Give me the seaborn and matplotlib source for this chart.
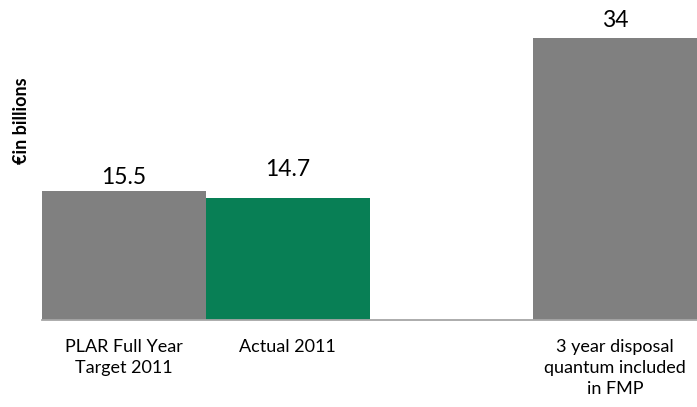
import matplotlib
matplotlib.use("Agg")
import matplotlib.pyplot as plt
import seaborn as sns
import pandas as pd
import numpy as np

categories = ["PLAR Full Year\nTarget 2011", "Actual 2011", " ", "3 year disposal\nquantum included\nin FMP"]
values = [15.5, 14.7, np.nan, 34]
value_labels = ["15.5", "14.7", "", "34"]
bar_colors = ["#808080", "#087F55", "#808080", "#808080"]
label_offsets = [3, 18, 0, 7]  # pixels above bar top

sns.set_theme(style="white")
plt.rcParams["font.family"] = ["Lato", "DejaVu Sans"]

df = pd.DataFrame({"cat": categories, "val": values})

fig = plt.figure(figsize=(6.97, 4.07), dpi=100)
ax = fig.add_axes([42/697, 87/407, 655/697, 300/407])

sns.barplot(data=df, x="cat", y="val", hue="cat", palette=bar_colors,
            width=1.0, legend=False, ax=ax, saturation=1, order=categories,
            hue_order=categories, linewidth=0, edgecolor="none")

ax.set_ylim(0, 34 * 300 / 282)
ax.set_xlim(-0.5, 3.5)
ax.set_yticks([])
ax.set_xlabel("")
ax.set_ylabel("€in billions", fontsize=13, fontweight="bold", color="black")
ax.yaxis.set_label_coords(-0.018, 0.663)

for i, (v, t, off) in enumerate(zip(values, value_labels, label_offsets)):
    if t:
        ax.annotate(t, (i, v), xytext=(0, off), textcoords="offset pixels",
                    ha="center", va="bottom", fontsize=16.5, color="black")

ax.tick_params(axis="x", length=0, pad=14, labelsize=13, colors="black")
for lab in ax.get_xticklabels():
    lab.set_multialignment("center")
    lab.set_linespacing(1.35)

sns.despine(ax=ax, left=True, top=True, right=True)
ax.spines["bottom"].set_color("#A6A6A6")
ax.spines["bottom"].set_linewidth(1.3)

fig.savefig("out.png", dpi=100)
